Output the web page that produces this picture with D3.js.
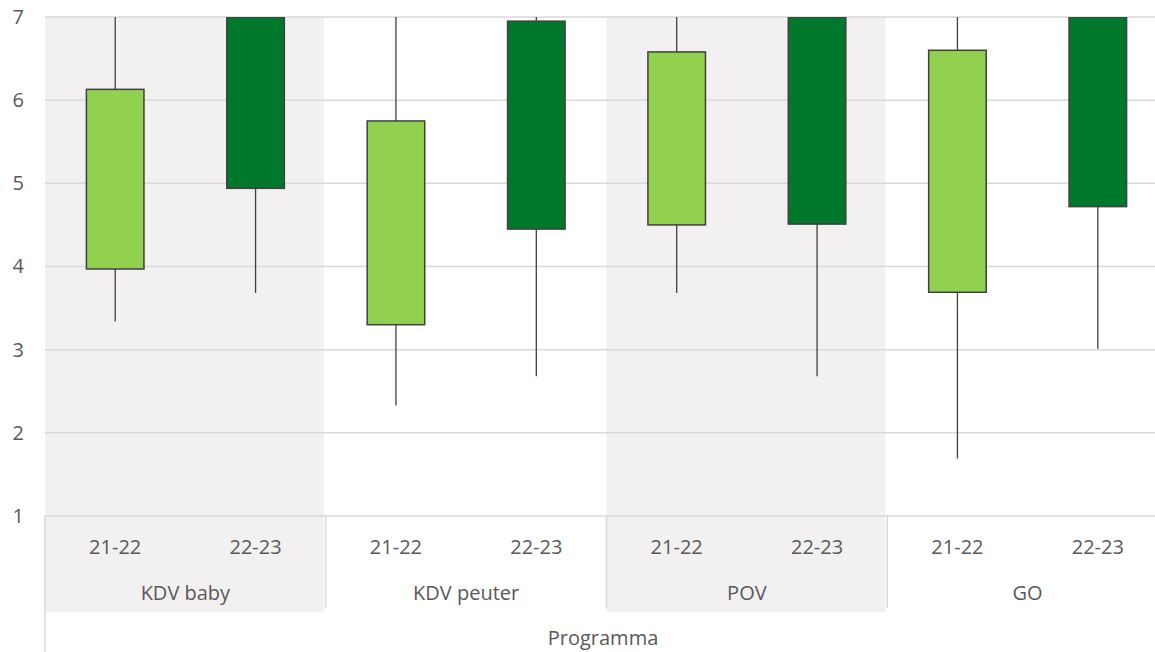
<!DOCTYPE html>
<html>
<head>
<meta charset="utf-8">
<script src="https://cdn.jsdelivr.net/npm/d3@7"></script>
<style>
  body { margin: 0; background: #fff; }
  text { font-family: "Open Sans", sans-serif; fill: #595959; }
</style>
</head>
<body>
<div id="chart"></div>
<script>
var width = 1155,
  height = 652;

// Data, one entry per box (programme x season)
var programmes = ["KDV baby", "KDV peuter", "POV", "GO"];
var seasons = ["21-22", "22-23"];
var high = [7, 7, 7, 7, 7, 7, 7, 7];
var boxTop = [6.13, 7, 5.75, 6.95, 6.58, 7, 6.60, 7];
var boxBottom = [3.97, 4.94, 3.30, 4.45, 4.50, 4.51, 3.69, 4.72];
var low = [3.34, 3.68, 2.33, 2.68, 3.68, 2.68, 1.69, 3.01];
var yTicks = [1, 2, 3, 4, 5, 6, 7];
var axisTitle = "Programma";

var seasonColor = d3.scaleOrdinal().domain(seasons).range(["#92D050", "#00782B"]);

var plot = { left: 45, right: 1168, top: 17, bottom: 516 };

var x0 = d3.scaleBand()
  .domain(programmes)
  .range([plot.left, plot.right]);

var x1 = d3.scaleBand()
  .domain(seasons)
  .range([0, x0.bandwidth()])
  .paddingInner(0.59)
  .paddingOuter(0.295);

var y = d3.scaleLinear()
  .domain([1, 7])
  .range([plot.bottom, plot.top]);

var boxes = [];
programmes.forEach(function (p, i) {
  seasons.forEach(function (s, j) {
    var k = i * seasons.length + j;
    boxes.push({ programme: p, season: s, high: high[k], top: boxTop[k], bottom: boxBottom[k], low: low[k] });
  });
});

var svg = d3.select("#chart")
  .append("svg")
  .attr("width", width)
  .attr("height", height);

svg.append("defs").append("clipPath")
  .attr("id", "clip")
  .append("rect")
  .attr("x", plot.left)
  .attr("y", plot.top)
  .attr("width", plot.right - plot.left)
  .attr("height", plot.bottom - plot.top);

// shaded bands for alternate programmes
svg.append("g")
  .selectAll("rect")
  .data(programmes.filter(function (d, i) { return i % 2 === 0; }))
  .enter()
  .append("rect")
  .attr("x", function (d) { return x0(d); })
  .attr("y", plot.top)
  .attr("width", x0.bandwidth() - 2)
  .attr("height", 612 - plot.top)
  .attr("fill", "#F2F0F1");

// gridlines
svg.append("g")
  .selectAll("line")
  .data(yTicks)
  .enter()
  .append("line")
  .attr("x1", plot.left)
  .attr("x2", width)
  .attr("y1", function (d) { return y(d); })
  .attr("y2", function (d) { return y(d); })
  .attr("stroke", "#D9D9D9")
  .attr("stroke-width", 1.5);

// y axis labels
var yAxis = svg.append("g")
  .attr("transform", "translate(" + plot.left + ",0)")
  .call(d3.axisLeft(y).tickValues(yTicks).tickSize(0).tickPadding(21).tickFormat(d3.format("d")));
yAxis.select(".domain").remove();
yAxis.selectAll("text")
  .style("font-family", "'Open Sans', sans-serif")
  .style("font-size", "20px")
  .attr("fill", "#595959");

// category axis lines
svg.append("line")
  .attr("x1", plot.left).attr("x2", plot.left)
  .attr("y1", plot.bottom).attr("y2", height)
  .attr("stroke", "#D9D9D9").attr("stroke-width", 1.5);

svg.append("g")
  .selectAll("line")
  .data(programmes.slice(1))
  .enter()
  .append("line")
  .attr("x1", function (d) { return x0(d); })
  .attr("x2", function (d) { return x0(d); })
  .attr("y1", plot.bottom)
  .attr("y2", 608)
  .attr("stroke", "#D9D9D9")
  .attr("stroke-width", 1.5);

// boxes
var g = svg.append("g").attr("clip-path", "url(#clip)");

var box = g.selectAll("g.box")
  .data(boxes)
  .enter()
  .append("g")
  .attr("class", "box")
  .attr("transform", function (d) { return "translate(" + x0(d.programme) + ",0)"; });

box.append("line")
  .attr("x1", function (d) { return x1(d.season) + x1.bandwidth() / 2; })
  .attr("x2", function (d) { return x1(d.season) + x1.bandwidth() / 2; })
  .attr("y1", function (d) { return y(d.high); })
  .attr("y2", function (d) { return y(d.low); })
  .attr("stroke", "#404040")
  .attr("stroke-width", 1.3);

box.append("rect")
  .attr("x", function (d) { return x1(d.season); })
  .attr("width", x1.bandwidth())
  .attr("y", function (d) { return y(d.top); })
  .attr("height", function (d) { return y(d.bottom) - y(d.top); })
  .attr("fill", function (d) { return seasonColor(d.season); })
  .attr("stroke", "#404040")
  .attr("stroke-width", 1.5);

// category labels
var cats = svg.append("g")
  .selectAll("g")
  .data(programmes)
  .enter()
  .append("g")
  .attr("transform", function (d) { return "translate(" + x0(d) + ",0)"; });

cats.selectAll("text.season")
  .data(seasons)
  .enter()
  .append("text")
  .attr("class", "season")
  .attr("x", function (d) { return x1(d) + x1.bandwidth() / 2; })
  .attr("y", 554)
  .attr("text-anchor", "middle")
  .style("font-size", "20px")
  .text(function (d) { return d; });

cats.append("text")
  .attr("x", x0.bandwidth() / 2)
  .attr("y", 600)
  .attr("text-anchor", "middle")
  .style("font-size", "20px")
  .text(function (d) { return d; });

svg.append("text")
  .attr("x", 603)
  .attr("y", 645)
  .attr("text-anchor", "middle")
  .style("font-size", "20px")
  .text(axisTitle);
</script>
</body>
</html>
